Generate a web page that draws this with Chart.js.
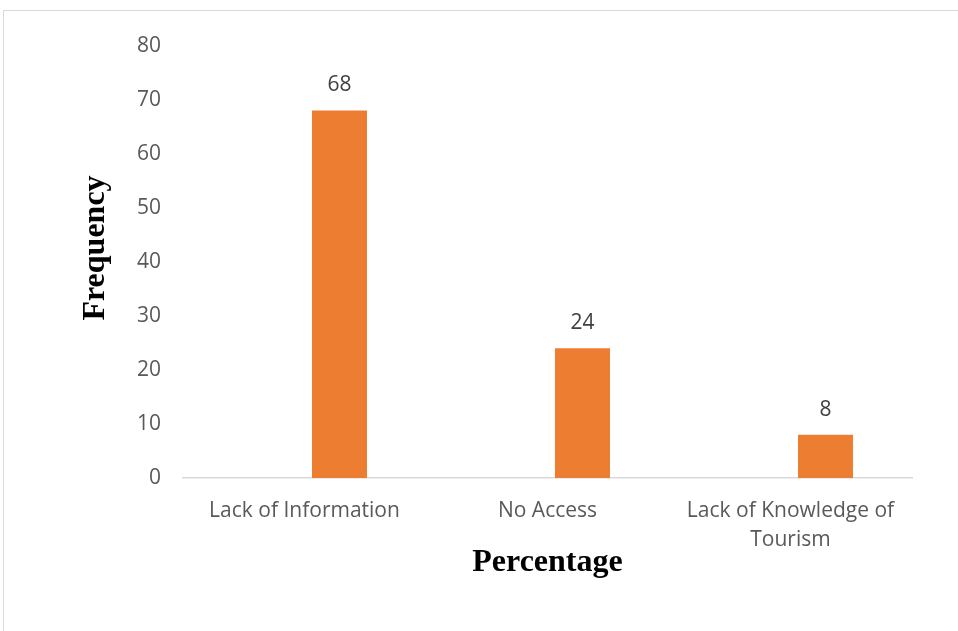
<!DOCTYPE html>
<html>
<head>
<meta charset="utf-8">
<script src="https://cdn.jsdelivr.net/npm/chart.js@4.4.1/dist/chart.umd.min.js"></script>
<style>
  html, body { margin: 0; padding: 0; background: #fff; }
  #box {
    position: absolute; left: 3px; top: 10px;
    width: 955px; height: 621px;
    border-top: 1px solid #d9d9d9; border-left: 1px solid #d9d9d9;
  }
  canvas { display: block; }
</style>
</head>
<body>
<div id="box"><canvas id="chart" width="954" height="620"></canvas></div>
<script>
var categories = ["Lack of Information", "No Access", ["Lack of Knowledge of", "Tourism"]];
var blankSeries = [null, null, null];
var frequency = [68, 24, 8];
var yTicks = { min: 0, max: 80, step: 10 };

var tickFont = { family: "'Open Sans', sans-serif", size: 21 };
var titleFont = "bold 32px 'Liberation Serif', 'Times New Roman', serif";

// value above each bar
var barValues = {
	id: "barValues",
	afterDatasetsDraw: function(chart) {
		var ctx = chart.ctx;
		var meta = chart.getDatasetMeta(1);
		ctx.save();
		ctx.font = tickFont.size + "px " + tickFont.family;
		ctx.fillStyle = "#404040";
		ctx.textAlign = "center";
		ctx.textBaseline = "middle";
		meta.data.forEach(function(bar, i) {
			ctx.fillText(String(frequency[i]), bar.x, bar.y - 25);
		});
		ctx.restore();
	}
};

// axis titles
var axisTitles = {
	id: "axisTitles",
	afterDraw: function(chart) {
		var ctx = chart.ctx;
		var area = chart.chartArea;
		ctx.save();
		ctx.font = titleFont;
		ctx.fillStyle = "#000";
		ctx.textAlign = "center";
		ctx.textBaseline = "middle";
		ctx.fillText("Percentage", (area.left + area.right) / 2, 552);
		ctx.translate(92, 237);
		ctx.rotate(-Math.PI / 2);
		ctx.fillText("Frequency", 0, 0);
		ctx.restore();
	}
};

new Chart(document.getElementById("chart"), {
	type: "bar",
	data: {
		labels: categories,
		datasets: [
			{ label: "", data: blankSeries, backgroundColor: "#4472c4" },
			{ label: "Frequency", data: frequency, backgroundColor: "#ed7d31" }
		]
	},
	options: {
		responsive: false,
		animation: false,
		events: [],
		categoryPercentage: 0.576,
		barPercentage: 0.786,
		layout: { padding: { left: 0, right: 46, top: 32, bottom: 0 } },
		plugins: { legend: { display: false }, tooltip: { enabled: false } },
		scales: {
			x: {
				grid: { display: false, drawTicks: false },
				border: { display: true, color: "#d9d9d9", width: 1.5 },
				ticks: { font: Object.assign({ lineHeight: 1.4 }, tickFont), color: "#595959", padding: 18, maxRotation: 0, autoSkip: false },
				afterFit: function(scale) { scale.height = 153; }
			},
			y: {
				min: yTicks.min,
				max: yTicks.max,
				grid: { display: false, drawTicks: false },
				border: { display: false },
				ticks: { stepSize: yTicks.step, font: tickFont, color: "#595959", padding: 22 },
				afterFit: function(scale) { scale.width = 179; }
			}
		}
	},
	plugins: [barValues, axisTitles]
});
</script>
</body>
</html>
